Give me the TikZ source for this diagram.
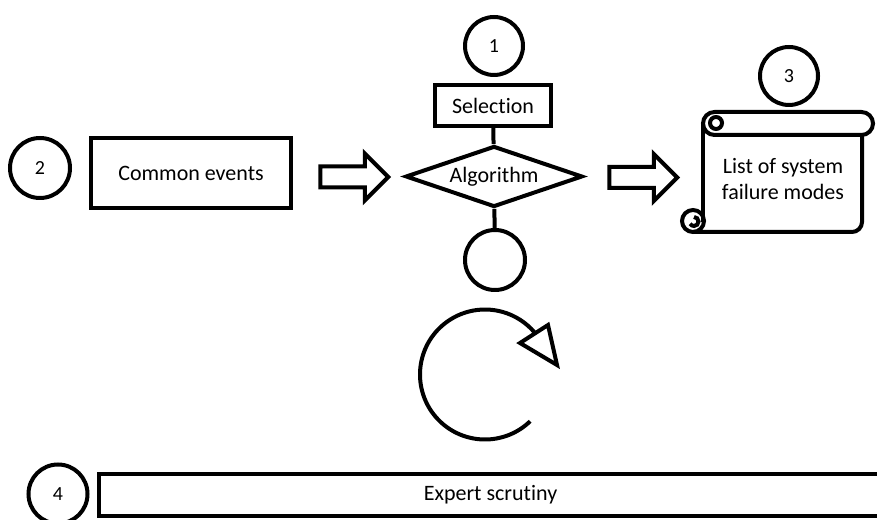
\documentclass[tikz,border=0pt]{standalone}
\usepackage{fontspec}
\setmainfont{Carlito}[Ligatures=NoCommon]
\usetikzlibrary{shapes.geometric, shapes.arrows, positioning}

\begin{document}
\begin{tikzpicture}[x=1pt, y=1pt, line width=4pt,
	txt/.style={font=\fontsize{22}{26}\selectfont},
	num/.style={circle, draw, inner sep=0pt, minimum size=58pt, font=\fontsize{20}{22}\selectfont},
	box/.style={draw, inner sep=0pt, txt},
	blockarrow/.style={single arrow, draw, inner xsep=0pt, inner ysep=8.5pt, single arrow head extend=13pt, minimum height=68pt}]
		\path[use as bounding box, clip] (0,0) rectangle (877,519);
		\draw (494,473) node[num] (n1){1}
		(493,413.5) node[box, minimum width=116pt, minimum height=41pt] (sel){Selection}
		(494,342.5) node[diamond, aspect=2.9, draw, inner sep=0pt, minimum width=177pt, minimum height=61pt, txt] (alg){Algorithm}
		(495,259) node[num, minimum size=60pt] (end){}
		(40,351) node[num, minimum size=60pt] (n2){2}
		(191,346) node[box, minimum width=200pt, minimum height=70pt] (ev){Common events}
		(349,342) node[blockarrow] (arrA){}
		(638,341.5) node[blockarrow] (arrB){}
		(789,443) node[num] (n3){3}
		(783,340) node[txt, align=center] (list){List of system\\failure modes}
		(58,25) node[num, minimum size=59pt] (n4){4}
		(490.5,24) node[box, minimum width=783pt, minimum height=42pt] (exp){Expert scrutiny};
		
		\draw (sel) -- (alg);
		\draw (alg) -- (end);
		
		\draw[rounded corners=11.5pt] (703,384) rectangle (873,407);
		\draw (716,396) circle[radius=6pt];
		\draw (703,396) -- (703,297);
		\draw[rounded corners=10pt] (862,384) -- (862,287) -- (693,287);
		\draw (693,298) circle[radius=11pt];
		\draw (694,302) arc[start angle=90, end angle=-150, radius=4.5pt];
		
		\draw (485,144.5) ++(-46:65) arc[start angle=-46, end angle=-319.5, radius=65];
		\draw[line join=miter] (520,176) -- (548,194) -- (557,154) -- cycle;
	\end{tikzpicture}
\end{document}
